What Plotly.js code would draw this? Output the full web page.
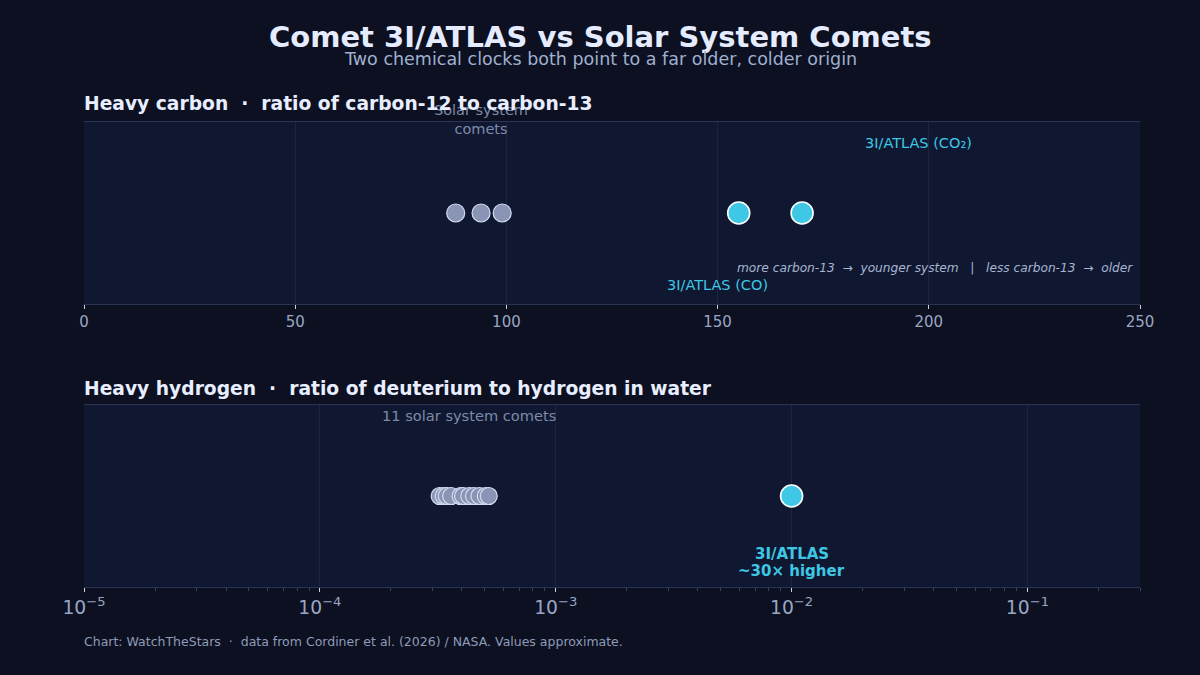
<!DOCTYPE html>
<html>
<head>
<meta charset="utf-8">
<script src="https://cdn.plot.ly/plotly-3.0.1.min.js"></script>
<style>html,body{margin:0;padding:0;background:#0c1020;}</style>
</head>
<body>
<div id="chart" style="width:1200px;height:675px;"></div>
<script>
// Carbon-12 / carbon-13 ratios
const carbonSolarNames = ["Comet A", "Comet B", "Comet C"];
const carbonSolarValues = [88, 94, 99];
const carbonAtlasNames = ["3I/ATLAS (CO)", "3I/ATLAS (CO₂)"];
const carbonAtlasValues = [155, 170];

// Deuterium / hydrogen ratios in water
const dhSolarValues = [3.22e-4, 3.35e-4, 3.45e-4, 3.6e-4, 3.95e-4, 4.05e-4, 4.3e-4, 4.5e-4, 4.75e-4, 5.05e-4, 5.2e-4];
const dhAtlasValues = [1.0e-2];

const carbonTicks = [0, 50, 100, 150, 200, 250];

const FONT = "DejaVu Sans, sans-serif";
const GRAY = "#8a94b4";
const CYAN = "#3ec8e6";
const CENTER = (600 - 84) / 1056;

const traces = [
  {x: carbonSolarValues, y: carbonSolarValues.map(() => 0.5), text: carbonSolarNames,
   type: "scatter", mode: "markers", xaxis: "x", yaxis: "y", hoverinfo: "x",
   marker: {size: 18, color: GRAY, line: {color: "#d6dcef", width: 1.2}}},
  {x: carbonAtlasValues, y: carbonAtlasValues.map(() => 0.5), text: carbonAtlasNames,
   type: "scatter", mode: "markers", xaxis: "x", yaxis: "y", hoverinfo: "x+text",
   marker: {size: 22, color: CYAN, line: {color: "#ffffff", width: 1.6}}},
  {x: dhSolarValues, y: dhSolarValues.map(() => 0.5),
   type: "scatter", mode: "markers", xaxis: "x2", yaxis: "y2", hoverinfo: "x",
   marker: {size: 17, color: GRAY, line: {color: "#d6dcef", width: 1.2}}},
  {x: dhAtlasValues, y: dhAtlasValues.map(() => 0.5),
   type: "scatter", mode: "markers", xaxis: "x2", yaxis: "y2", hoverinfo: "x",
   marker: {size: 22, color: CYAN, line: {color: "#ffffff", width: 1.6}}}
];

const axisCommon = {
  showline: true, mirror: true, linecolor: "#2a3556", linewidth: 1,
  showgrid: true, gridcolor: "#1c2540", gridwidth: 1, zeroline: false,
  ticks: "outside", ticklen: 4, tickcolor: "#c8d0e4", tickwidth: 1,
  tickfont: {family: FONT, size: 15, color: "#9aa6c4"}, fixedrange: true
};
const yCommon = {range: [0, 1], showgrid: false, zeroline: false, showticklabels: false,
  showline: false, ticks: "", fixedrange: true};

const layout = {
  width: 1200, height: 675,
  paper_bgcolor: "#0c1020", plot_bgcolor: "#0f1830",
  margin: {l: 84, r: 60, t: 0, b: 0},
  showlegend: false,
  font: {family: FONT, color: "#9aa6c4"},
  xaxis: Object.assign({}, axisCommon, {domain: [0, 1], range: [0, 250], tickvals: carbonTicks, anchor: "y"}),
  yaxis: Object.assign({}, yCommon, {domain: [0.5496, 0.8193], anchor: "x"}),
  xaxis2: Object.assign({}, axisCommon, {domain: [0, 1], type: "log", range: [-5, Math.log10(0.3)],
    dtick: 1, exponentformat: "power", anchor: "y2",
    minor: {ticks: "outside", ticklen: 3, tickcolor: "#3a4460", showgrid: false}}),
  yaxis2: Object.assign({}, yCommon, {domain: [0.1304, 0.4], anchor: "x2"}),
  annotations: [
    {text: "Solar system<br>comets", x: 94, y: 0.85, xref: "x", yref: "y", yanchor: "bottom", yshift: 10,
     showarrow: false, font: {family: FONT, size: 14.5, color: "#7f8aa8"}},
    {text: "3I/ATLAS (CO₂)", x: 197.5, y: 0.885, xref: "x", yref: "y",
     showarrow: false, font: {family: FONT, size: 14.5, color: CYAN}},
    {text: "3I/ATLAS (CO)", x: 150, y: 0.105, xref: "x", yref: "y",
     showarrow: false, font: {family: FONT, size: 14.5, color: CYAN}},
    {text: "<i>more carbon-13  →  younger system   |   less carbon-13  →  older</i>",
     x: 248, y: 0.2, xref: "x", yref: "y", xanchor: "right", xshift: 3,
     showarrow: false, font: {family: FONT, size: 12.2, color: "#a8b4d0"}},
    {text: "11 solar system comets", x: Math.log10(4.27e-4), y: 0.945, xref: "x2", yref: "y2",
     showarrow: false, font: {family: FONT, size: 14.6, color: "#7f8aa8"}},
    {text: "<b>3I/ATLAS</b>", x: -2, y: 0.181, xref: "x2", yref: "y2",
     showarrow: false, font: {family: FONT, size: 15, color: CYAN}},
    {text: "<b>~30× higher</b>", x: -2, y: 0.088, xref: "x2", yref: "y2",
     showarrow: false, font: {family: FONT, size: 15, color: CYAN}},
    {text: "<b>Comet 3I/ATLAS vs Solar System Comets</b>", x: CENTER, y: 1 - 37/675, xref: "paper", yref: "paper",
     xanchor: "center", yanchor: "middle", showarrow: false,
     font: {family: FONT, size: 29, color: "#e6ecff"}},
    {text: "Two chemical clocks both point to a far older, colder origin", x: CENTER, y: 1 - 59/675,
     xref: "paper", yref: "paper", xanchor: "center", yanchor: "middle", showarrow: false,
     font: {family: FONT, size: 17.5, color: "#9fb0d0"}},
    {text: "<b>Heavy carbon  ·  ratio of carbon-12 to carbon-13</b>", x: 0, y: 1 - 104/675, xshift: -2,
     xref: "paper", yref: "paper", xanchor: "left", yanchor: "middle", showarrow: false,
     font: {family: FONT, size: 18.7, color: "#e8eeff"}},
    {text: "<b>Heavy hydrogen  ·  ratio of deuterium to hydrogen in water</b>", x: 0, y: 1 - 388/675, xshift: -2,
     xref: "paper", yref: "paper", xanchor: "left", yanchor: "middle", showarrow: false,
     font: {family: FONT, size: 18.7, color: "#e8eeff"}},
    {text: "Chart: WatchTheStars  ·  data from Cordiner et al. (2026) / NASA. Values approximate.",
     x: 0, y: 1 - 641/675, xref: "paper", yref: "paper", xanchor: "left", yanchor: "middle", xshift: -2,
     showarrow: false, font: {family: FONT, size: 12.5, color: "#8f9bb8"}}
  ]
};

Plotly.newPlot("chart", traces, layout, {displayModeBar: false, staticPlot: true});
</script>
</body>
</html>
